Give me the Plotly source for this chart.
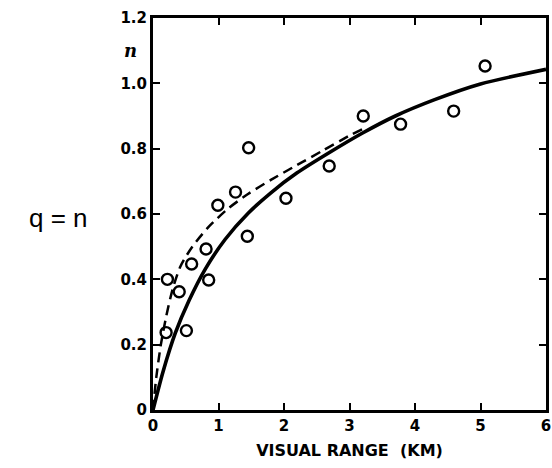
import plotly.graph_objects as go

# Observed points (visual range km, n)
obs_x = [0.20, 0.22, 0.40, 0.51, 0.59, 0.81, 0.85, 0.99, 1.26, 1.44, 1.46, 2.03, 2.69, 3.21, 3.78, 4.59, 5.07]
obs_y = [0.237, 0.40, 0.362, 0.243, 0.447, 0.493, 0.398, 0.627, 0.667, 0.532, 0.803, 0.648, 0.747, 0.90, 0.875, 0.915, 1.053]

# Solid curve samples
solid_x = [0, 0.15, 0.34, 0.55, 0.8, 1.1, 1.456, 1.8, 2.2, 2.7, 3.2, 3.7, 4.3, 5.0, 6.0]
solid_y = [0, 0.115, 0.235, 0.335, 0.432, 0.522, 0.603, 0.665, 0.726, 0.789, 0.848, 0.90, 0.95, 0.998, 1.043]

# Dashed curve samples
dash_x = [0, 0.05, 0.12, 0.2, 0.3, 0.42, 0.6, 0.856, 1.156, 1.456, 1.806, 2.2, 2.6, 3.0, 3.2]
dash_y = [0, 0.1, 0.2, 0.285, 0.37, 0.44, 0.50, 0.562, 0.618, 0.662, 0.705, 0.75, 0.795, 0.84, 0.86]

x_ticks = [0, 1, 2, 3, 4, 5, 6]
y_ticks = [0, 0.2, 0.4, 0.6, 0.8, 1.0, 1.2]
y_ticklabels = ["0", "0.2", "0.4", "0.6", "0.8", "1.0", "1.2"]

fig = go.Figure()
fig.add_trace(go.Scatter(x=dash_x, y=dash_y, mode="lines",
                         line=dict(color="black", width=2.5, dash="10px,6px", shape="spline", smoothing=0.7),
                         hoverinfo="skip", showlegend=False))
fig.add_trace(go.Scatter(x=solid_x, y=solid_y, mode="lines",
                         line=dict(color="black", width=3.6, shape="spline", smoothing=0.7),
                         hoverinfo="skip", showlegend=False))
fig.add_trace(go.Scatter(x=obs_x, y=obs_y, mode="markers",
                         marker=dict(symbol="circle-open", size=11, color="black", line=dict(width=2.4)),
                         showlegend=False))

axis_common = dict(showline=True, linecolor="black", linewidth=3, mirror="allticks",
                   ticks="inside", ticklen=7, tickwidth=2, tickcolor="black",
                   showgrid=False, zeroline=False, ticklabeloverflow="allow",
                   tickfont=dict(family="DejaVu Sans", size=15, color="black", weight="bold"))

fig.update_xaxes(range=[0, 6], tickvals=x_ticks, ticktext=[str(v) for v in x_ticks],
                 title=dict(text="VISUAL RANGE  (KM)", standoff=11,
                            font=dict(family="DejaVu Sans", size=16, color="black", weight="bold")),
                 **axis_common)
fig.update_yaxes(range=[0, 1.2], tickvals=y_ticks, ticktext=y_ticklabels, **axis_common)

fig.add_annotation(x=-0.058, y=1.1, xref="paper", yref="y", xanchor="center", text="<i><b>n</b></i>",
                   showarrow=False, font=dict(family="DejaVu Serif", size=18, color="black"))
fig.add_annotation(x=-0.24, y=0.49, xref="paper", yref="paper", xanchor="center", text="q = n",
                   showarrow=False, font=dict(family="Liberation Sans", size=26, color="black"))

fig.update_layout(width=552, height=468, margin=dict(l=153, r=1, t=18, b=58),
                  plot_bgcolor="white", paper_bgcolor="white")

fig.write_html("out.html", config={"displayModeBar": False},
               post_script="document.body.style.margin='0';document.body.style.overflow='hidden';")
